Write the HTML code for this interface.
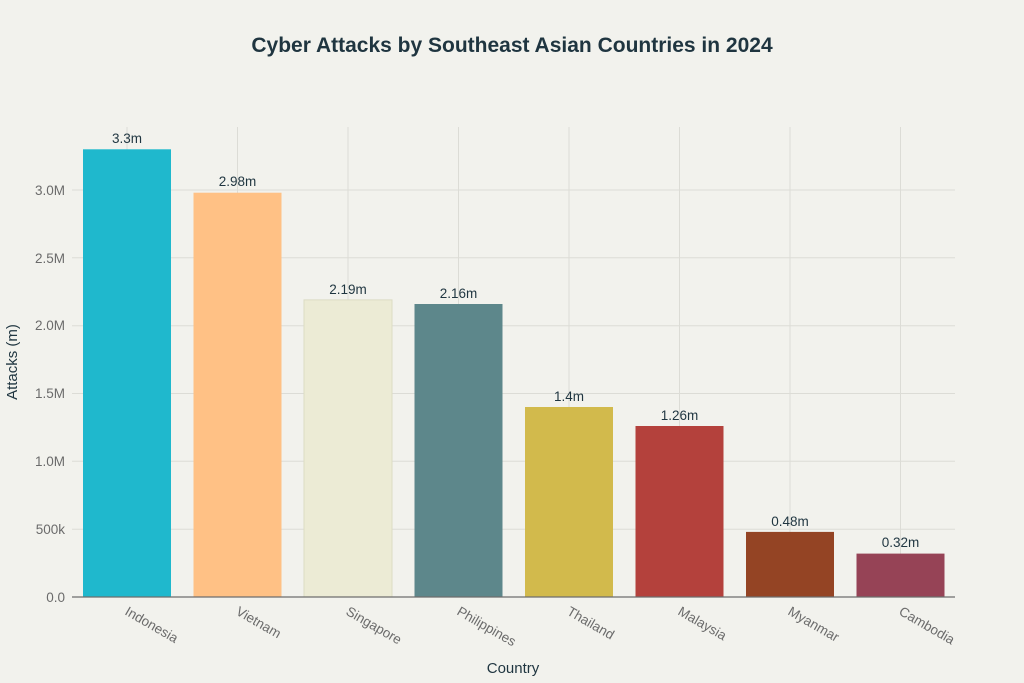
<!DOCTYPE html>
<html><head><meta charset="utf-8"><style>
body{margin:0;background:#f2f2ed;}
svg{display:block;font-family:"Liberation Sans",sans-serif;}
</style></head><body>
<svg width="1024" height="683" viewBox="0 0 1024 683">
<rect width="1024" height="683" fill="#f2f2ed"/>
<text x="512" y="52" text-anchor="middle" font-size="21" font-weight="bold" fill="#1f3540">Cyber Attacks by Southeast Asian Countries in 2024</text>
<g stroke="#dcdcd6" stroke-width="1">
<line x1="72" x2="955" y1="529.2" y2="529.2"/>
<line x1="72" x2="955" y1="461.3" y2="461.3"/>
<line x1="72" x2="955" y1="393.5" y2="393.5"/>
<line x1="72" x2="955" y1="325.7" y2="325.7"/>
<line x1="72" x2="955" y1="257.8" y2="257.8"/>
<line x1="72" x2="955" y1="190" y2="190"/>
<line x1="127" x2="127" y1="127" y2="597"/>
<line x1="237.5" x2="237.5" y1="127" y2="597"/>
<line x1="348" x2="348" y1="127" y2="597"/>
<line x1="458.5" x2="458.5" y1="127" y2="597"/>
<line x1="569" x2="569" y1="127" y2="597"/>
<line x1="679.5" x2="679.5" y1="127" y2="597"/>
<line x1="790" x2="790" y1="127" y2="597"/>
<line x1="900.5" x2="900.5" y1="127" y2="597"/>
</g>
<g>
<rect x="83" y="149.3" width="88" height="447.7" fill="#1fb8cd"/>
<rect x="193.5" y="192.7" width="88" height="404.3" fill="#ffc185"/>
<rect x="304" y="299.9" width="88" height="297.1" fill="#ecebd5" stroke="#dcdcc4"/>
<rect x="414.5" y="304" width="88" height="293" fill="#5d878b"/>
<rect x="525" y="407" width="88" height="190" fill="#d2ba4c"/>
<rect x="635.5" y="426" width="88" height="171" fill="#b4413c"/>
<rect x="746" y="531.9" width="88" height="65.1" fill="#944424"/>
<rect x="856.5" y="553.6" width="88" height="43.4" fill="#964356"/>
</g>
<line x1="72" x2="955" y1="597" y2="597" stroke="#6e6e6e" stroke-width="1.2"/>
<g font-size="13.5" fill="#1f3540" text-anchor="middle">
<text x="127" y="143">3.3m</text>
<text x="237.5" y="186">2.98m</text>
<text x="348" y="294">2.19m</text>
<text x="458.5" y="298">2.16m</text>
<text x="569" y="401">1.4m</text>
<text x="679.5" y="420">1.26m</text>
<text x="790" y="526">0.48m</text>
<text x="900.5" y="547">0.32m</text>
</g>
<g font-size="13.5" fill="#6b6b6b" text-anchor="end">
<text x="65" y="602">0.0</text>
<text x="65" y="534">500k</text>
<text x="65" y="466">1.0M</text>
<text x="65" y="398">1.5M</text>
<text x="65" y="330">2.0M</text>
<text x="65" y="263">2.5M</text>
<text x="65" y="195">3.0M</text>
</g>
<g font-size="13.5" fill="#6b6b6b">
<text transform="translate(124,614) rotate(30)">Indonesia</text>
<text transform="translate(235,614) rotate(30)">Vietnam</text>
<text transform="translate(345,614) rotate(30)">Singapore</text>
<text transform="translate(456,614) rotate(30)">Philippines</text>
<text transform="translate(566,614) rotate(30)">Thailand</text>
<text transform="translate(677,614) rotate(30)">Malaysia</text>
<text transform="translate(787,614) rotate(30)">Myanmar</text>
<text transform="translate(898,614) rotate(30)">Cambodia</text>
</g>
<text x="513" y="673" text-anchor="middle" font-size="15" fill="#1f3540">Country</text>
<text transform="translate(17,362) rotate(-90)" text-anchor="middle" font-size="15" fill="#1f3540">Attacks (m)</text>
</svg>
</body></html>
